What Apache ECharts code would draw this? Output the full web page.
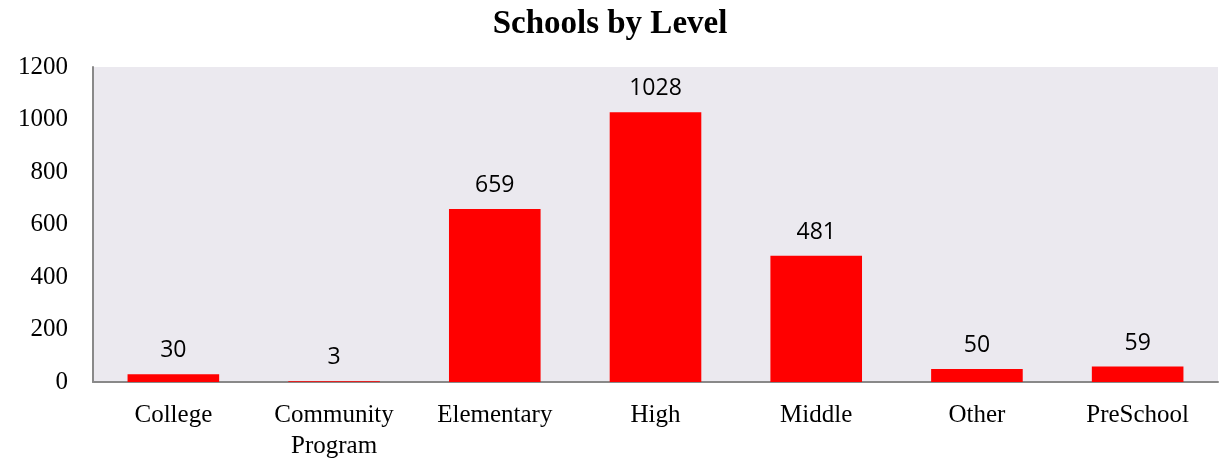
<!DOCTYPE html>
<html><head><meta charset="utf-8">
<script src="https://cdn.jsdelivr.net/npm/echarts@6/dist/echarts.min.js"></script>
<style>html,body{margin:0;padding:0;background:#fff}#c{width:1220px;height:461px}</style>
</head><body><div id="c"></div>
<script>
const categories = ["College", "Community\nProgram", "Elementary", "High", "Middle", "Other", "PreSchool"];
const counts = [30, 3, 659, 1028, 481, 50, 59];
const titleText = "Schools by Level";

const chart = echarts.init(document.getElementById('c'));
chart.setOption({
  animation: false,
  title: {
    text: titleText, left: 'center', top: 3,
    textStyle: { fontFamily: 'Liberation Serif', fontWeight: 'bold', fontSize: 33, color: '#000' }
  },
  grid: { left: 93, right: 2, top: 67, bottom: 79, outerBoundsMode: 'none', containLabel: false, show: true, backgroundColor: '#ebe9ef', borderWidth: 0 },
  xAxis: {
    type: 'category', data: categories,
    axisLine: { lineStyle: { color: '#898989', width: 2 } },
    axisTick: { show: false },
    axisLabel: { interval: 0, fontFamily: 'Liberation Serif', fontSize: 25, color: '#000', margin: 18, lineHeight: 31 }
  },
  yAxis: {
    type: 'value', min: 0, max: 1200, interval: 200,
    axisLine: { show: true, lineStyle: { color: '#898989', width: 2 } },
    axisTick: { show: false },
    splitLine: { show: false },
    axisLabel: { fontFamily: 'Liberation Serif', fontSize: 25, color: '#000', margin: 25, formatter: v => String(v) }
  },
  series: [{
    type: 'bar', data: counts, barWidth: '57%',
    itemStyle: { color: '#ff0000' },
    label: { show: true, position: 'top', distance: 12, fontFamily: 'Open Sans', fontSize: 23, color: '#000' }
  }]
});
</script></body></html>
